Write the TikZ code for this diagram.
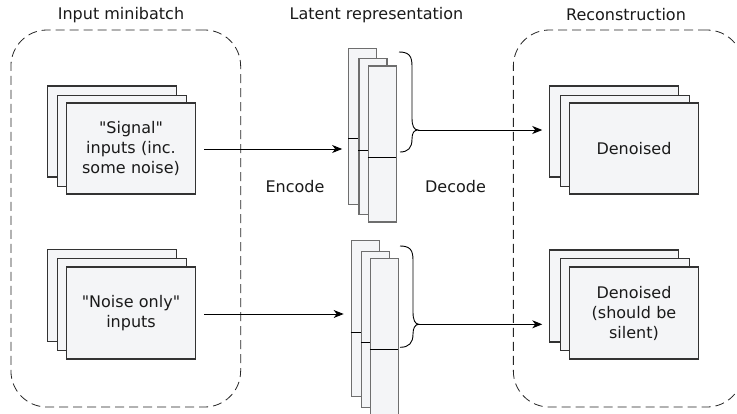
\documentclass[tikz,border=0pt]{standalone}
\usepackage{fontspec}
\setmainfont{DejaVu Sans}[Ligatures=TeXOff]
\usetikzlibrary{arrows.meta}
\definecolor{pagefill}{HTML}{F4F5F7}
\definecolor{pageline}{HTML}{333333}
\definecolor{latline}{HTML}{6E6E6E}
\definecolor{txt}{HTML}{1A1A1A}
\begin{document}
\begin{tikzpicture}[x=1pt,y=-1pt,
  every node/.style={font=\fontsize{16}{20}\selectfont, text=txt},
  page/.style={draw=pageline, fill=pagefill, line width=1.1pt, minimum width=129pt, minimum height=91pt, inner sep=0pt, align=center, text width=120pt},
  latent/.style={draw=latline, fill=pagefill, line width=1.1pt, minimum width=28pt, minimum height=156pt, inner sep=0pt},
  group/.style={draw=black!85, dash pattern=on 9pt off 5pt, line width=0.8pt, rounded corners=36pt, minimum width=229.7pt, minimum height=377pt, inner sep=0pt},
  title/.style={inner sep=0pt},
  flow/.style={-{Stealth[length=10pt,width=8pt,inset=3pt]}, line width=0.9pt, black},
  divider/.style={draw=black, line width=0.9pt},
  bracestyle/.style={draw=black, line width=0.9pt}
]
\clip (0,0) rectangle (737,413);
\fill[white] (0,0) rectangle (737,413);

% groups
\node[group] (gin) at (125.8,218.5) {};
\node[group] (gout) at (628.2,218.5) {};
\node[title] (tin) at (121,15) {Input minibatch};
\node[title] (tlat) at (376.5,15) {Latent representation};
\node[title] (tout) at (626,15) {Reconstruction};

% input stacks
\node[page] (sa) at (112,131.5) {};
\node[page] (sb) at (122,141) {};
\node[page] (sc) at (131,148.5) {"Signal"\\inputs (inc.\\some noise)};
\node[page, minimum height=92pt] (na) at (112,295.5) {};
\node[page, minimum height=92pt] (nb) at (122,304.5) {};
\node[page, minimum height=92pt] (nc) at (131,313) {"Noise only"\\inputs};

% output stacks
\node[page] (da) at (614.3,131.5) {};
\node[page] (db) at (624.8,141) {};
\node[page] (dc) at (634,148.5) {Denoised};
\node[page, minimum height=92pt] (ea) at (614.3,296) {};
\node[page, minimum height=92pt] (eb) at (624.8,304.5) {};
\node[page, minimum height=92pt] (ec) at (634,313) {Denoised\\(should be\\silent)};

% latent stacks (top)
\node[latent] (la) at (362.7,126.2) {};
\draw[divider] (la.north west) ++(0,91) -- ++(28,0);
\node[latent] (lb) at (373,136.5) {};
\draw[divider] (lb.north west) ++(0,92.5) -- ++(28,0);
\node[latent] (lc) at (382.4,144) {};
\draw[divider] (lc.north west) ++(0,91.7) -- ++(28,0);

% latent stacks (bottom)
\node[latent] (ma) at (365.2,318.8) {};
\draw[divider] (ma.north west) ++(0,92) -- ++(28,0);
\node[latent] (mb) at (375.5,329.5) {};
\draw[divider] (mb.north west) ++(0,91.7) -- ++(28,0);
\node[latent] (mc) at (384.5,336.7) {};
\draw[divider] (mc.north west) ++(0,91.3) -- ++(28,0);

% braces
\coordinate (bt1) at (418,130);
\coordinate (bt2) at (419,324.3);
\draw[bracestyle] (399,52) .. controls (409,52) and (412,56) .. (412,66) -- (412,118)
  .. controls (412,126) and (414,130) .. (bt1)
  .. controls (414,130) and (412,133) .. (412,139)
  .. controls (412,148) and (408,152) .. (400,152);
\draw[bracestyle] (400,246) .. controls (410,246) and (413,250) .. (413,260) -- (413,312)
  .. controls (413,320) and (415,324.3) .. (bt2)
  .. controls (415,324.3) and (413,328) .. (413,334)
  .. controls (413,343) and (409,347.3) .. (400,347.3);

% labels
\node[title] (enc) at (295,187) {Encode};
\node[title] (dec) at (455.5,187) {Decode};

% connectors
\draw[flow, shorten <=8pt, shorten >=6pt] (sc.east |- 0,149) -- (la.west |- 0,149);
\draw[flow, shorten <=8pt, shorten >=7pt] (nc.east |- 0,314) -- (ma.west |- 0,314);
\draw[flow, shorten >=7pt] (bt1) -- (da.west |- bt1);
\draw[flow, shorten >=7pt] (bt2) -- (ea.west |- bt2);
\end{tikzpicture}
\end{document}
